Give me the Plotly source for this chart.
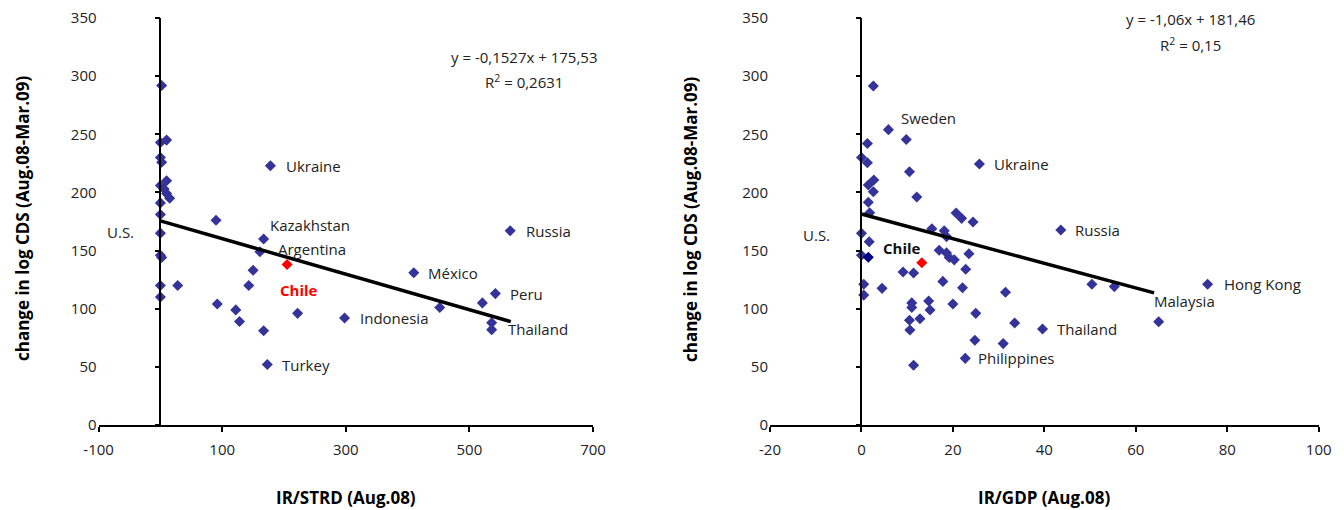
import plotly.graph_objects as go

# ---------------- data: left panel (IR/STRD) ----------------
strd_x = [2, 0, 10, 0, 2, 10, 0, 6, 10, 15, 0, 0, 90, 0, 167, 161, 0, 2, 150, 0, 28, 143, 0,
          92, 122, 222, 128, 167, 173, 178, 566, 410, 542, 521, 452, 298, 536, 536]
strd_y = [292, 243, 245, 230, 226, 210, 206, 203, 199, 195, 191, 181, 176, 165, 160, 149, 146, 144,
          133, 120, 120, 120, 110, 104, 99, 96, 89, 81, 52, 223, 167, 131, 113, 105, 101, 92, 88, 82]
chile_strd = [205]
chile_strd_y = [138]
strd_labels = {"Ukraine": 29, "Kazakhstan": 14, "Argentina": 15, "U.S.": 13, "México": 31,
               "Russia": 30, "Peru": 32, "Indonesia": 35, "Thailand": 37, "Turkey": 28}
strd_trend = [-0.1527, 175.53]
strd_trend_x = [0, 567]
strd_ticks = [-100, 100, 300, 500, 700]
strd_ticktext = ["-100", "100", "300", "500", "700"]

# ---------------- data: right panel (IR/GDP) ----------------
gdp_x = [2.6, 5.9, 9.8, 1.3, 0, 1.3, 25.8, 10.5, 2.7, 1.5, 2.6, 12.1, 1.5, 1.8, 20.7, 21.9, 24.4,
         15.4, 18.1, 18.6, 0, 1.7, 17, 18.6, 23.5, 19.2, 20.3, 0, 9.1, 11.4, 22.8, 17.8, 0.5, 0.5,
         4.5, 22.1, 31.5, 11, 11, 14.7, 15, 20, 25, 33.5, 10.5, 10.6, 12.8, 24.8, 31, 22.7, 11.4,
         43.6, 50.4, 55.3, 75.7, 65, 39.6]
gdp_y = [291.5, 254, 245.5, 242, 230, 225.5, 224.4, 217.8, 210.7, 206.4, 200.6, 196, 191.5, 182.5,
         182.3, 177.7, 174.5, 168.7, 167, 162, 164.8, 157.6, 150.2, 148, 147.2, 144, 142, 146, 131.5,
         130.7, 133.9, 123.5, 121, 111.7, 117.5, 118, 114.1, 105, 101, 106.6, 98.9, 104, 96, 87.7,
         90, 81.7, 91.4, 72.8, 70, 57.3, 51.4, 167.7, 121, 119, 121, 88.8, 82.5]
us_gdp = [1.5]
us_gdp_y = [144.2]
chile_gdp = [13.2]
chile_gdp_y = [139.6]
gdp_labels = {"Sweden": 1, "Ukraine": 6, "Russia": 51, "U.S.": 20, "Hong Kong": 54,
              "Malaysia": 55, "Thailand": 56, "Philippines": 49}
gdp_trend = [-1.06, 181.46]
gdp_trend_x = [0, 64]
gdp_ticks = [-20, 0, 20, 40, 60, 80, 100]
gdp_ticktext = ["-20", "0", "20", "40", "60", "80", "100"]

# ---------------- layout geometry ----------------
W, H = 1344, 510
FONT = "Open Sans"
BLUE = "#333399"
TXT = "#222222"
x1_dom = [98.6 / W, 593 / W]
x2_dom = [770 / W, 1318.7 / W]
y_dom = [85 / H, 492 / H]
x1_range = [-100, 700]
x2_range = [-20, 100]
y_range = [0, 350]

def zero_pos(dom, rng):
    return dom[0] + (0 - rng[0]) / (rng[1] - rng[0]) * (dom[1] - dom[0])

fig = go.Figure()

def add_panel(xa, ya, xs, ys, trend, trend_x):
    fig.add_trace(go.Scatter(x=xs, y=ys, mode="markers", xaxis=xa, yaxis=ya,
                             marker=dict(symbol="diamond", size=8.5, color=BLUE, line=dict(width=0)),
                             showlegend=False, hoverinfo="x+y"))
    ty = [trend[0] * v + trend[1] for v in trend_x]
    fig.add_trace(go.Scatter(x=trend_x, y=ty, mode="lines", xaxis=xa, yaxis=ya,
                             line=dict(color="black", width=3.5), showlegend=False, hoverinfo="skip"))

add_panel("x", "y", strd_x, strd_y, strd_trend, strd_trend_x)
fig.add_trace(go.Scatter(x=chile_strd, y=chile_strd_y, mode="markers", xaxis="x", yaxis="y",
                         marker=dict(symbol="diamond", size=8.5, color="#FF0000"), showlegend=False))
add_panel("x2", "y2", gdp_x, gdp_y, gdp_trend, gdp_trend_x)
fig.add_trace(go.Scatter(x=us_gdp, y=us_gdp_y, mode="markers", xaxis="x2", yaxis="y2",
                         marker=dict(symbol="diamond", size=8.5, color="#000080"), showlegend=False))
fig.add_trace(go.Scatter(x=chile_gdp, y=chile_gdp_y, mode="markers", xaxis="x2", yaxis="y2",
                         marker=dict(symbol="diamond", size=8.5, color="#FF0000"), showlegend=False))
# invisible traces to bind the axis-at-zero overlays
fig.add_trace(go.Scatter(x=[None], y=[None], xaxis="x", yaxis="y3", showlegend=False))
fig.add_trace(go.Scatter(x=[None], y=[None], xaxis="x2", yaxis="y4", showlegend=False))

tickfont = dict(family=FONT, size=15, color=TXT)
yvals = list(range(0, 351, 50))

common_x = dict(showgrid=False, zeroline=False, showline=True, linecolor="black", linewidth=1.5,
                ticks="outside", ticklen=5, tickwidth=1.5, tickcolor="black", tickfont=tickfont,
                fixedrange=True, automargin=False, ticklabelstandoff=5)
common_y = dict(showgrid=False, zeroline=False, showline=False, ticks="", tickfont=tickfont,
                range=y_range, tickvals=yvals, domain=y_dom, fixedrange=True, automargin=False,
                ticklabelstandoff=1)
zero_y = dict(showgrid=False, zeroline=False, showline=True, linecolor="black", linewidth=1.5,
              ticks="outside", ticklen=5, tickwidth=1.5, tickcolor="black", showticklabels=False,
              range=y_range, tickvals=yvals, domain=y_dom, anchor="free", fixedrange=True)

fig.update_layout(
    width=W, height=H, margin=dict(l=0, r=0, t=0, b=0),
    paper_bgcolor="white", plot_bgcolor="white", showlegend=False,
    xaxis=dict(domain=x1_dom, range=x1_range, tickvals=strd_ticks, ticktext=strd_ticktext,
               anchor="y", **common_x),
    yaxis=dict(anchor="x", **common_y),
    xaxis2=dict(domain=x2_dom, range=x2_range, tickvals=gdp_ticks, ticktext=gdp_ticktext,
                anchor="y2", **common_x),
    yaxis2=dict(anchor="x2", **common_y),
    yaxis3=dict(overlaying="y", position=zero_pos(x1_dom, x1_range), **zero_y),
    yaxis4=dict(overlaying="y2", position=zero_pos(x2_dom, x2_range), **zero_y),
)

ann = []
lab_font = dict(family=FONT, size=15, color=TXT)

# label offsets (pixels): name -> (xanchor, xshift, yshift)
strd_off = {"Ukraine": ("left", 14, 0), "Kazakhstan": ("left", 4, 14), "Argentina": ("left", 16, 3),
            "U.S.": ("right", -24, 1), "México": ("left", 12, 0), "Russia": ("left", 14, 0),
            "Peru": ("left", 13, 0), "Indonesia": ("left", 13, 0), "Thailand": ("left", 14, 1),
            "Turkey": ("left", 13, 0)}
for name, i in strd_labels.items():
    xa, xs, ys = strd_off[name]
    ann.append(dict(x=strd_x[i], y=strd_y[i], xref="x", yref="y", text=name, showarrow=False,
                    xanchor=xa, yanchor="middle", xshift=xs, yshift=ys, font=lab_font))
ann.append(dict(x=chile_strd[0], y=chile_strd_y[0], xref="x", yref="y", text="<b>Chile</b>",
                showarrow=False, xanchor="left", yanchor="middle", xshift=-9, yshift=-25,
                font=dict(family=FONT, size=15, color="#FF0000")))

gdp_off = {"Sweden": ("left", 11, 12), "Ukraine": ("left", 13, 0), "Russia": ("left", 12, 0),
           "U.S.": ("right", -29, -2), "Hong Kong": ("left", 14, 0), "Malaysia": ("left", -7, 21),
           "Thailand": ("left", 12, 0), "Philippines": ("left", 11, 0)}
for name, i in gdp_labels.items():
    xa, xs, ys = gdp_off[name]
    ann.append(dict(x=gdp_x[i], y=gdp_y[i], xref="x2", yref="y2", text=name, showarrow=False,
                    xanchor=xa, yanchor="middle", xshift=xs, yshift=ys, font=lab_font))
ann.append(dict(x=chile_gdp[0], y=chile_gdp_y[0], xref="x2", yref="y2", text="<b>Chile</b>",
                showarrow=False, xanchor="right", yanchor="middle", xshift=1, yshift=15,
                font=dict(family=FONT, size=15, color="#111111")))

# regression equations
ann.append(dict(x=524 / W, y=1 - 57 / H, xref="paper", yref="paper", showarrow=False,
                text="y = -0,1527x + 175,53", xanchor="center", yanchor="middle", font=lab_font))
ann.append(dict(x=524 / W, y=1 - 81 / H, xref="paper", yref="paper", showarrow=False,
                text="R<sup>2</sup> = 0,2631", xanchor="center", yanchor="middle", font=lab_font))
ann.append(dict(x=1190 / W, y=1 - 19 / H, xref="paper", yref="paper", showarrow=False,
                text="y = -1,06x + 181,46", xanchor="center", yanchor="middle", font=lab_font))
ann.append(dict(x=1190 / W, y=1 - 44 / H, xref="paper", yref="paper", showarrow=False,
                text="R<sup>2</sup> = 0,15", xanchor="center", yanchor="middle", font=lab_font))

# axis titles
title_font = dict(family=FONT, size=17, color="black")
for cx, txt in [((x1_dom[0] + x1_dom[1]) / 2, "<b>IR/STRD (Aug.08)</b>"),
                ((x2_dom[0] + x2_dom[1]) / 2, "<b>IR/GDP (Aug.08)</b>")]:
    ann.append(dict(x=cx, y=1 - 497 / H, xref="paper", yref="paper", showarrow=False, text=txt,
                    xanchor="center", yanchor="middle", font=title_font))
for cx in [22 / W, 690 / W]:
    ann.append(dict(x=cx, y=1 - 219 / H, xref="paper", yref="paper", showarrow=False,
                    text="<b>change in log CDS (Aug.08-Mar.09)</b>", textangle=-90,
                    xanchor="center", yanchor="middle", font=dict(family=FONT, size=17, color="black")))

fig.update_layout(annotations=ann)
fig.write_html("out.html")
